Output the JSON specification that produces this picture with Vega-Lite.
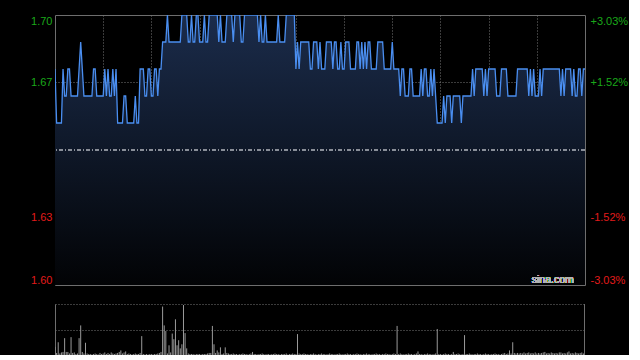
{
 "$schema": "https://vega.github.io/schema/vega-lite/v6.json",
 "background": "#000000",
 "padding": {"left": 4, "top": 14, "right": 0, "bottom": 0},
 "autosize": {"type": "pad"},
 "config": {"view": {"stroke": null}, "axis": {"labelFont": "Liberation Sans", "labelFontSize": 11}},
 "data": {"values": [
{"m":0,"p":1.68,"v":16},{"m":1,"p":1.66,"v":4},{"m":2,"p":1.66,"v":25},{"m":3,"p":1.66,"v":3},{"m":4,"p":1.66,"v":5},{"m":5,"p":1.68,"v":6},{"m":6,"p":1.67,"v":33},{"m":7,"p":1.67,"v":6},{"m":8,"p":1.68,"v":6},{"m":9,"p":1.68,"v":3},
{"m":10,"p":1.67,"v":35},{"m":11,"p":1.67,"v":4},{"m":12,"p":1.67,"v":5},{"m":13,"p":1.67,"v":2},{"m":14,"p":1.67,"v":3},{"m":15,"p":1.68,"v":33},{"m":16,"p":1.69,"v":58},{"m":17,"p":1.68,"v":6},{"m":18,"p":1.67,"v":3},{"m":19,"p":1.67,"v":24},
{"m":20,"p":1.67,"v":3},{"m":21,"p":1.67,"v":2},{"m":22,"p":1.67,"v":2},{"m":23,"p":1.67,"v":1},{"m":24,"p":1.68,"v":2},{"m":25,"p":1.68,"v":3},{"m":26,"p":1.67,"v":2},{"m":27,"p":1.67,"v":1},{"m":28,"p":1.67,"v":4},{"m":29,"p":1.67,"v":2},
{"m":30,"p":1.67,"v":3},{"m":31,"p":1.68,"v":5},{"m":32,"p":1.67,"v":2},{"m":33,"p":1.68,"v":4},{"m":34,"p":1.67,"v":2},{"m":35,"p":1.67,"v":5},{"m":36,"p":1.68,"v":3},{"m":37,"p":1.67,"v":2},{"m":38,"p":1.68,"v":3},{"m":39,"p":1.66,"v":4},
{"m":40,"p":1.66,"v":6},{"m":41,"p":1.66,"v":9},{"m":42,"p":1.66,"v":3},{"m":43,"p":1.67,"v":5},{"m":44,"p":1.67,"v":7},{"m":45,"p":1.66,"v":2},{"m":46,"p":1.66,"v":3},{"m":47,"p":1.66,"v":2},{"m":48,"p":1.66,"v":1},{"m":49,"p":1.66,"v":2},
{"m":50,"p":1.67,"v":3},{"m":51,"p":1.66,"v":2},{"m":52,"p":1.66,"v":2},{"m":53,"p":1.68,"v":4},{"m":54,"p":1.68,"v":37},{"m":55,"p":1.68,"v":2},{"m":56,"p":1.67,"v":1},{"m":57,"p":1.67,"v":2},{"m":58,"p":1.68,"v":1},{"m":59,"p":1.68,"v":2},
{"m":60,"p":1.67,"v":2},{"m":61,"p":1.67,"v":1},{"m":62,"p":1.68,"v":2},{"m":63,"p":1.68,"v":2},{"m":64,"p":1.67,"v":3},{"m":65,"p":1.68,"v":4},{"m":66,"p":1.68,"v":6},{"m":67,"p":1.69,"v":95},{"m":68,"p":1.69,"v":58},{"m":69,"p":1.69,"v":47},
{"m":70,"p":1.70,"v":3},{"m":71,"p":1.69,"v":19},{"m":72,"p":1.69,"v":5},{"m":73,"p":1.69,"v":42},{"m":74,"p":1.69,"v":31},{"m":75,"p":1.69,"v":70},{"m":76,"p":1.69,"v":19},{"m":77,"p":1.69,"v":29},{"m":78,"p":1.69,"v":13},{"m":79,"p":1.70,"v":21},
{"m":80,"p":1.70,"v":98},{"m":81,"p":1.70,"v":43},{"m":82,"p":1.70,"v":13},{"m":83,"p":1.69,"v":3},{"m":84,"p":1.69,"v":2},{"m":85,"p":1.70,"v":2},{"m":86,"p":1.69,"v":2},{"m":87,"p":1.69,"v":1},{"m":88,"p":1.70,"v":2},{"m":89,"p":1.70,"v":2},
{"m":90,"p":1.69,"v":2},{"m":91,"p":1.69,"v":1},{"m":92,"p":1.69,"v":2},{"m":93,"p":1.70,"v":2},{"m":94,"p":1.69,"v":2},{"m":95,"p":1.69,"v":3},{"m":96,"p":1.70,"v":4},{"m":97,"p":1.70,"v":4},{"m":98,"p":1.70,"v":57},{"m":99,"p":1.70,"v":21},
{"m":100,"p":1.70,"v":4},{"m":101,"p":1.70,"v":9},{"m":102,"p":1.69,"v":5},{"m":103,"p":1.70,"v":15},{"m":104,"p":1.69,"v":2},{"m":105,"p":1.69,"v":3},{"m":106,"p":1.69,"v":15},{"m":107,"p":1.70,"v":4},{"m":108,"p":1.70,"v":3},{"m":109,"p":1.70,"v":2},
{"m":110,"p":1.70,"v":2},{"m":111,"p":1.69,"v":3},{"m":112,"p":1.70,"v":2},{"m":113,"p":1.70,"v":2},{"m":114,"p":1.70,"v":1},{"m":115,"p":1.70,"v":2},{"m":116,"p":1.69,"v":2},{"m":117,"p":1.69,"v":3},{"m":118,"p":1.70,"v":2},{"m":119,"p":1.70,"v":2},
{"m":120,"p":1.70,"v":1},{"m":121,"p":1.70,"v":2},{"m":122,"p":1.70,"v":3},{"m":123,"p":1.70,"v":6},{"m":124,"p":1.70,"v":2},{"m":125,"p":1.70,"v":2},{"m":126,"p":1.70,"v":1},{"m":127,"p":1.69,"v":2},{"m":128,"p":1.70,"v":2},{"m":129,"p":1.69,"v":3},
{"m":130,"p":1.69,"v":2},{"m":131,"p":1.70,"v":1},{"m":132,"p":1.69,"v":2},{"m":133,"p":1.69,"v":2},{"m":134,"p":1.69,"v":1},{"m":135,"p":1.69,"v":2},{"m":136,"p":1.69,"v":2},{"m":137,"p":1.69,"v":3},{"m":138,"p":1.69,"v":2},{"m":139,"p":1.70,"v":2},
{"m":140,"p":1.69,"v":1},{"m":141,"p":1.69,"v":2},{"m":142,"p":1.69,"v":2},{"m":143,"p":1.69,"v":2},{"m":144,"p":1.70,"v":3},{"m":145,"p":1.70,"v":1},{"m":146,"p":1.70,"v":2},{"m":147,"p":1.70,"v":2},{"m":148,"p":1.70,"v":3},{"m":149,"p":1.70,"v":2},
{"m":150,"p":1.68,"v":2},{"m":151,"p":1.69,"v":41},{"m":152,"p":1.68,"v":3},{"m":153,"p":1.69,"v":2},{"m":154,"p":1.69,"v":2},{"m":155,"p":1.69,"v":3},{"m":156,"p":1.69,"v":2},{"m":157,"p":1.69,"v":2},{"m":158,"p":1.69,"v":1},{"m":159,"p":1.68,"v":2},
{"m":160,"p":1.68,"v":2},{"m":161,"p":1.69,"v":3},{"m":162,"p":1.69,"v":2},{"m":163,"p":1.69,"v":1},{"m":164,"p":1.68,"v":2},{"m":165,"p":1.69,"v":2},{"m":166,"p":1.68,"v":3},{"m":167,"p":1.68,"v":2},{"m":168,"p":1.68,"v":2},{"m":169,"p":1.69,"v":1},
{"m":170,"p":1.69,"v":2},{"m":171,"p":1.69,"v":3},{"m":172,"p":1.69,"v":2},{"m":173,"p":1.68,"v":2},{"m":174,"p":1.69,"v":1},{"m":175,"p":1.69,"v":2},{"m":176,"p":1.68,"v":2},{"m":177,"p":1.68,"v":3},{"m":178,"p":1.69,"v":2},{"m":179,"p":1.68,"v":1},
{"m":180,"p":1.68,"v":2},{"m":181,"p":1.69,"v":2},{"m":182,"p":1.69,"v":3},{"m":183,"p":1.69,"v":2},{"m":184,"p":1.68,"v":2},{"m":185,"p":1.68,"v":1},{"m":186,"p":1.68,"v":2},{"m":187,"p":1.68,"v":2},{"m":188,"p":1.69,"v":3},{"m":189,"p":1.69,"v":2},
{"m":190,"p":1.68,"v":2},{"m":191,"p":1.69,"v":1},{"m":192,"p":1.68,"v":2},{"m":193,"p":1.69,"v":2},{"m":194,"p":1.68,"v":3},{"m":195,"p":1.69,"v":2},{"m":196,"p":1.69,"v":2},{"m":197,"p":1.68,"v":1},{"m":198,"p":1.68,"v":2},{"m":199,"p":1.68,"v":2},
{"m":200,"p":1.68,"v":3},{"m":201,"p":1.69,"v":2},{"m":202,"p":1.69,"v":2},{"m":203,"p":1.69,"v":1},{"m":204,"p":1.69,"v":2},{"m":205,"p":1.68,"v":2},{"m":206,"p":1.68,"v":3},{"m":207,"p":1.68,"v":2},{"m":208,"p":1.68,"v":2},{"m":209,"p":1.68,"v":1},
{"m":210,"p":1.69,"v":2},{"m":211,"p":1.68,"v":3},{"m":212,"p":1.68,"v":2},{"m":213,"p":1.68,"v":57},{"m":214,"p":1.68,"v":2},{"m":215,"p":1.67,"v":3},{"m":216,"p":1.68,"v":2},{"m":217,"p":1.68,"v":1},{"m":218,"p":1.67,"v":2},{"m":219,"p":1.67,"v":2},
{"m":220,"p":1.67,"v":3},{"m":221,"p":1.68,"v":2},{"m":222,"p":1.68,"v":2},{"m":223,"p":1.67,"v":1},{"m":224,"p":1.67,"v":2},{"m":225,"p":1.67,"v":3},{"m":226,"p":1.67,"v":7},{"m":227,"p":1.67,"v":2},{"m":228,"p":1.68,"v":2},{"m":229,"p":1.67,"v":1},
{"m":230,"p":1.68,"v":2},{"m":231,"p":1.68,"v":2},{"m":232,"p":1.67,"v":3},{"m":233,"p":1.67,"v":2},{"m":234,"p":1.68,"v":2},{"m":235,"p":1.67,"v":1},{"m":236,"p":1.68,"v":2},{"m":237,"p":1.67,"v":3},{"m":238,"p":1.66,"v":51},{"m":239,"p":1.66,"v":2},
{"m":240,"p":1.66,"v":2},{"m":241,"p":1.66,"v":1},{"m":242,"p":1.67,"v":2},{"m":243,"p":1.66,"v":3},{"m":244,"p":1.67,"v":2},{"m":245,"p":1.67,"v":2},{"m":246,"p":1.67,"v":1},{"m":247,"p":1.66,"v":2},{"m":248,"p":1.67,"v":6},{"m":249,"p":1.67,"v":2},
{"m":250,"p":1.67,"v":2},{"m":251,"p":1.67,"v":3},{"m":252,"p":1.67,"v":2},{"m":253,"p":1.66,"v":1},{"m":254,"p":1.67,"v":2},{"m":255,"p":1.67,"v":39},{"m":256,"p":1.67,"v":2},{"m":257,"p":1.67,"v":2},{"m":258,"p":1.67,"v":3},{"m":259,"p":1.67,"v":2},
{"m":260,"p":1.68,"v":1},{"m":261,"p":1.67,"v":2},{"m":262,"p":1.68,"v":2},{"m":263,"p":1.68,"v":3},{"m":264,"p":1.68,"v":2},{"m":265,"p":1.68,"v":2},{"m":266,"p":1.68,"v":1},{"m":267,"p":1.67,"v":2},{"m":268,"p":1.68,"v":3},{"m":269,"p":1.67,"v":2},
{"m":270,"p":1.68,"v":2},{"m":271,"p":1.68,"v":1},{"m":272,"p":1.68,"v":2},{"m":273,"p":1.68,"v":2},{"m":274,"p":1.68,"v":3},{"m":275,"p":1.67,"v":2},{"m":276,"p":1.67,"v":2},{"m":277,"p":1.67,"v":1},{"m":278,"p":1.68,"v":2},{"m":279,"p":1.68,"v":3},
{"m":280,"p":1.68,"v":4},{"m":281,"p":1.68,"v":2},{"m":282,"p":1.67,"v":3},{"m":283,"p":1.67,"v":9},{"m":284,"p":1.67,"v":3},{"m":285,"p":1.67,"v":25},{"m":286,"p":1.67,"v":4},{"m":287,"p":1.67,"v":3},{"m":288,"p":1.68,"v":4},{"m":289,"p":1.68,"v":3},
{"m":290,"p":1.68,"v":4},{"m":291,"p":1.68,"v":3},{"m":292,"p":1.68,"v":5},{"m":293,"p":1.68,"v":3},{"m":294,"p":1.68,"v":4},{"m":295,"p":1.67,"v":5},{"m":296,"p":1.68,"v":3},{"m":297,"p":1.67,"v":4},{"m":298,"p":1.68,"v":3},{"m":299,"p":1.67,"v":5},
{"m":300,"p":1.67,"v":3},{"m":301,"p":1.67,"v":4},{"m":302,"p":1.68,"v":3},{"m":303,"p":1.67,"v":4},{"m":304,"p":1.68,"v":5},{"m":305,"p":1.68,"v":6},{"m":306,"p":1.68,"v":3},{"m":307,"p":1.68,"v":4},{"m":308,"p":1.68,"v":3},{"m":309,"p":1.68,"v":5},
{"m":310,"p":1.68,"v":4},{"m":311,"p":1.68,"v":3},{"m":312,"p":1.68,"v":4},{"m":313,"p":1.68,"v":3},{"m":314,"p":1.68,"v":5},{"m":315,"p":1.67,"v":5},{"m":316,"p":1.68,"v":3},{"m":317,"p":1.67,"v":4},{"m":318,"p":1.68,"v":3},{"m":319,"p":1.68,"v":5},
{"m":320,"p":1.68,"v":7},{"m":321,"p":1.68,"v":3},{"m":322,"p":1.67,"v":4},{"m":323,"p":1.68,"v":3},{"m":324,"p":1.67,"v":5},{"m":325,"p":1.67,"v":4},{"m":326,"p":1.68,"v":3},{"m":327,"p":1.68,"v":4},{"m":328,"p":1.67,"v":5},{"m":329,"p":1.68,"v":3},
{"m":330,"p":1.68,"v":6}
 ]},
 "spacing": 18,
 "vconcat": [
  {
   "width": 530, "height": 270,
   "view": {"stroke": "#6e6e6e", "strokeWidth": 1},
   "layer": [
    {"mark": {"type": "area", "clip": true, "color": {"gradient": "linear", "x1": 0, "y1": 0, "x2": 0, "y2": 1, "stops": [{"offset": 0, "color": "#1b2c4b"}, {"offset": 1, "color": "#020305"}]}},
     "encoding": {
      "x": {"field": "m", "type": "quantitative", "scale": {"domain": [0, 330], "nice": false, "zero": false},
            "axis": {"values": [30, 60, 90, 120, 150, 180, 210, 240, 270, 300], "grid": true, "gridColor": "#777777", "gridDash": [1, 2], "labels": false, "ticks": false, "domain": false, "title": null, "minExtent": 0, "maxExtent": 0}},
      "y": {"field": "p", "type": "quantitative", "scale": {"domain": [1.6, 1.7], "nice": false, "zero": false},
            "axis": {"values": [1.6, 1.625, 1.675, 1.7], "grid": true, "gridColor": "#777777", "gridDash": [1, 2],
                     "gridOpacity": {"condition": {"test": "datum.value < 1.61 || datum.value > 1.69", "value": 0}, "value": 1},
                     "labelExpr": "datum.value > 1.69 ? '1.70' : datum.value > 1.66 ? '1.67' : datum.value > 1.61 ? '1.63' : '1.60'",
                     "labelColor": {"condition": {"test": "datum.value < 1.65", "value": "#e21b1b"}, "value": "#1aa81a"},
                     "labelFlush": true, "ticks": false, "domain": false, "labelPadding": 3, "title": null, "minExtent": 50, "maxExtent": 50}},
      "y2": {"datum": 1.6}
     }},
    {"mark": {"type": "line", "clip": true, "color": "#4a8ef0", "strokeWidth": 1.3},
     "encoding": {
      "x": {"field": "m", "type": "quantitative"},
      "y": {"field": "p", "type": "quantitative",
            "axis": {"orient": "right", "values": [1.6, 1.625, 1.675, 1.7], "grid": false,
                     "labelExpr": "datum.value > 1.69 ? '+3.03%' : datum.value > 1.66 ? '+1.52%' : datum.value > 1.61 ? '-1.52%' : '-3.03%'",
                     "labelColor": {"condition": {"test": "datum.value < 1.65", "value": "#e21b1b"}, "value": "#1aa81a"},
                     "labelFlush": true, "ticks": false, "domain": false, "labelPadding": 5, "title": null}}
     }},
    {"mark": {"type": "rule", "color": "#8a8f99", "strokeDash": [4, 2, 1, 2]},
     "encoding": {"y": {"datum": 1.65, "type": "quantitative", "axis": null}}},
    {"mark": {"type": "text", "color": "#b4b4b4", "font": "Liberation Sans", "fontSize": 10.5, "align": "right", "baseline": "alphabetic"},
     "encoding": {"x": {"datum": 323, "type": "quantitative"}, "y": {"datum": 1.6008, "type": "quantitative", "axis": null}, "text": {"value": "sina.com"}}}
   ],
   "resolve": {"axis": {"y": "independent"}}
  },
  {
   "width": 530, "height": 51,
   "layer": [
    {"mark": {"type": "rule", "clip": true, "color": "#9a9a9a", "strokeWidth": 1},
     "encoding": {
      "x": {"field": "m", "type": "quantitative", "scale": {"domain": [0, 330], "nice": false, "zero": false},
            "axis": {"grid": false, "labels": false, "ticks": false, "domain": false, "title": null, "minExtent": 0, "maxExtent": 0}},
      "y": {"field": "v", "type": "quantitative", "scale": {"domain": [0, 100], "nice": false},
            "axis": {"values": [0, 50, 100], "grid": true, "gridColor": "#777777", "gridDash": [1, 2], "labels": false, "ticks": false, "domain": true, "domainColor": "#6e6e6e", "title": null, "minExtent": 50, "maxExtent": 50}},
      "y2": {"datum": 0}
     }},
    {"mark": {"type": "rule", "clip": true, "color": "#6e6e6e", "strokeWidth": 2},
     "encoding": {"x": {"datum": 330, "type": "quantitative"}}}
   ]
  }
 ]
}
